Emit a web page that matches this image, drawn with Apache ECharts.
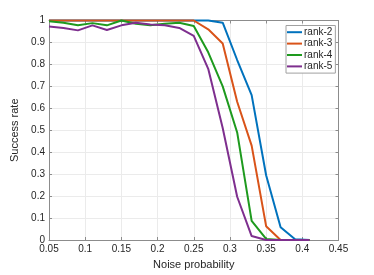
<!DOCTYPE html>
<html>
<head>
<meta charset="utf-8">
<script src="https://cdn.jsdelivr.net/npm/echarts@6/dist/echarts.min.js"></script>
<style>html,body{margin:0;padding:0;background:#fff}#c{width:374px;height:275px}</style>
</head>
<body>
<div id="c"></div>
<script>
var noise = [0.05,0.07,0.09,0.11,0.13,0.15,0.17,0.19,0.21,0.23,0.25,0.27,0.29,0.31,0.33,0.35,0.37,0.39,0.41];
var rank2 = [1,1,1,1,1,1,1,1,1,1,1,1,0.99,0.82,0.66,0.295,0.058,0.003,0];
var rank3 = [1,1,1,1,1,1,1,1,1,1,1,0.96,0.895,0.63,0.43,0.063,0,0,0];
var rank4 = [0.997,0.99,0.978,0.988,0.978,1.0,0.985,0.978,0.985,0.99,0.975,0.855,0.70,0.49,0.087,0.005,0,0,0];
var rank5 = [0.973,0.966,0.955,0.978,0.957,0.978,0.99,0.982,0.978,0.966,0.93,0.78,0.51,0.197,0.018,0,0,0,0];
var seriesNames = ['rank-2','rank-3','rank-4','rank-5'];
var seriesData = [rank2, rank3, rank4, rank5];
var colors = ['#0072BD','#D95319','#1E9A1E','#7E2F8E'];

var font = 'Liberation Sans, Arial, sans-serif';
var axisCol = '#8c8c8c';
var txtCol = '#262626';

function pairs(arr){ return arr.map(function(v,i){ return [noise[i], v]; }); }

var series = seriesNames.map(function(n,i){
  return {
    name: n, type: 'line', data: pairs(seriesData[i]),
    showSymbol: false, symbol: 'none', clip: false,
    lineStyle: {width: 2, color: colors[i]}, itemStyle: {color: colors[i]},
    z: 3 + i
  };
});

var chart = echarts.init(document.getElementById('c'), null, {renderer: 'canvas'});
chart.setOption({
  animation: false,
  color: colors,
  grid: {left: 49, right: 35.5, top: 20.5, bottom: 31, containLabel: false},
  legend: {
    orient: 'vertical', left: 286, top: 25.5,
    backgroundColor: '#fff', borderColor: '#a0a0a0', borderWidth: 1,
    padding: [1, 3, 1, 1], itemGap: 0, itemWidth: 15, itemHeight: 2,
    icon: 'rect',
    textStyle: {fontFamily: font, fontSize: 10, color: txtCol, lineHeight: 11.4, padding: [0,0,0,-3]},
    data: seriesNames
  },
  xAxis: [{
    type: 'value', min: 0.05, max: 0.45, interval: 0.05,
    name: 'Noise probability', nameLocation: 'middle', nameGap: 19,
    nameTextStyle: {fontFamily: font, fontSize: 11, color: txtCol},
    axisLine: {show: true, lineStyle: {color: axisCol, width: 1}},
    axisTick: {show: true, inside: true, length: 3, lineStyle: {color: axisCol}},
    axisLabel: {fontFamily: font, fontSize: 10, color: txtCol, margin: 4},
    splitLine: {show: true, lineStyle: {color: '#ebebeb', width: 1}}
  }, {
    type: 'value', position: 'top', min: 0.05, max: 0.45, interval: 0.05,
    axisLine: {show: true, onZero: false, lineStyle: {color: axisCol, width: 1}},
    axisTick: {show: true, inside: true, length: 3, lineStyle: {color: axisCol}},
    axisLabel: {show: false}, splitLine: {show: false}
  }],
  yAxis: [{
    type: 'value', min: 0, max: 1, interval: 0.1,
    name: 'Success rate', nameLocation: 'middle', nameGap: 20,
    nameTextStyle: {fontFamily: font, fontSize: 11, color: txtCol},
    axisLine: {show: true, lineStyle: {color: axisCol, width: 1}},
    axisTick: {show: true, inside: true, length: 3, lineStyle: {color: axisCol}},
    axisLabel: {fontFamily: font, fontSize: 10, color: txtCol, margin: 4},
    splitLine: {show: true, lineStyle: {color: '#ebebeb', width: 1}}
  }, {
    type: 'value', position: 'right', min: 0, max: 1, interval: 0.1,
    axisLine: {show: true, onZero: false, lineStyle: {color: axisCol, width: 1}},
    axisTick: {show: true, inside: true, length: 3, lineStyle: {color: axisCol}},
    axisLabel: {show: false}, splitLine: {show: false}
  }],
  series: series
});
</script>
</body>
</html>
